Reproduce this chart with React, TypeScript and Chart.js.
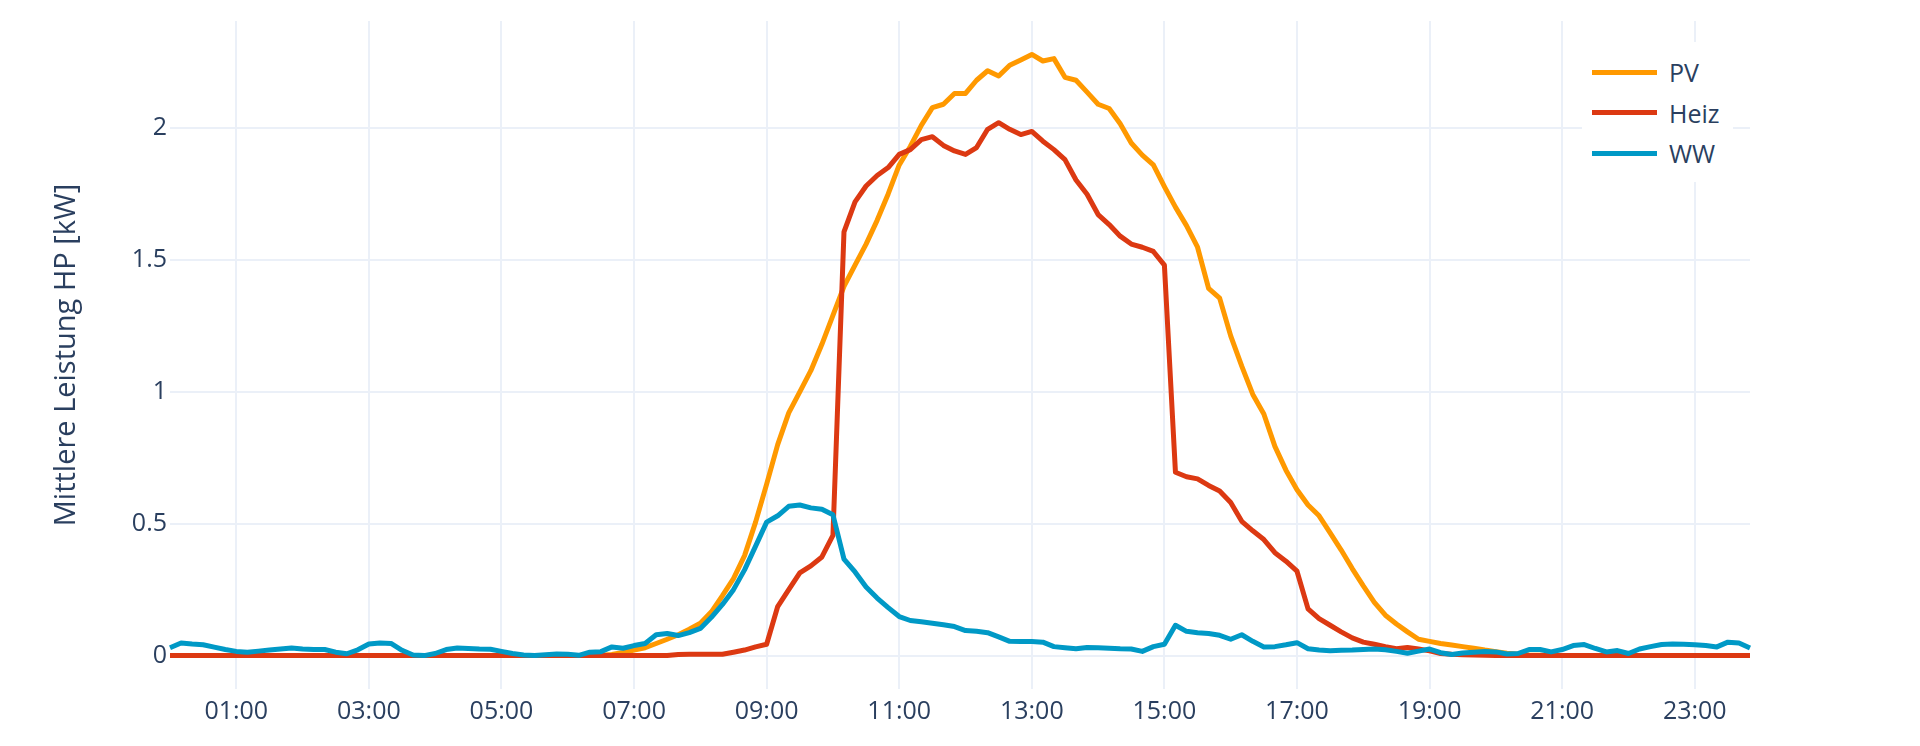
import { useEffect, useRef } from "react";
import { Chart, registerables } from "chart.js";

Chart.register(...registerables);

// 10-minute steps over the day, 00:00 ... 23:50
const times = Array.from({ length: 144 }, (_, i) => {
  const h = String(Math.floor(i / 6)).padStart(2, "0");
  const m = String((i % 6) * 10).padStart(2, "0");
  return `${h}:${m}`;
});

const tickLabels = [
  "01:00", "03:00", "05:00", "07:00", "09:00", "11:00",
  "13:00", "15:00", "17:00", "19:00", "21:00", "23:00",
];

// one row per hour (6 values)
const pv = [
  0, 0, 0, 0, 0, 0,
  0, 0, 0, 0, 0, 0,
  0, 0, 0, 0, 0, 0,
  0, 0, 0, 0, 0, 0,
  0, 0, 0, 0, 0, 0,
  0, 0, 0, 0, 0, 0,
  0, 0, 0, 0.001, 0.004, 0.012,
  0.021, 0.03, 0.046, 0.062, 0.079, 0.1,
  0.123, 0.166, 0.227, 0.292, 0.379, 0.506,
  0.65, 0.8, 0.92, 1.0, 1.08, 1.18,
  1.29, 1.4, 1.48, 1.56, 1.65, 1.75,
  1.86, 1.93, 2.01, 2.077, 2.09, 2.131,
  2.131, 2.181, 2.217, 2.197, 2.238, 2.258,
  2.279, 2.254, 2.263, 2.192, 2.181, 2.136,
  2.09, 2.074, 2.016, 1.943, 1.897, 1.86,
  1.778, 1.7, 1.63, 1.548, 1.392, 1.355,
  1.212, 1.097, 0.99, 0.916, 0.793, 0.703,
  0.629, 0.571, 0.53, 0.465, 0.4, 0.33,
  0.264, 0.202, 0.153, 0.12, 0.09, 0.062,
  0.054, 0.046, 0.04, 0.034, 0.028, 0.021,
  0.015, 0.009, 0.005, 0.002, 0.001, 0,
  0, 0, 0, 0, 0, 0,
  0, 0, 0, 0, 0, 0,
  0, 0, 0, 0, 0, 0,
];

const heiz = [
  0, 0, 0, 0, 0, 0,
  0, 0, 0, 0, 0, 0,
  0, 0, 0, 0, 0, 0,
  0, 0, 0, 0, 0, 0,
  0, 0, 0, 0, 0, 0,
  0, 0, 0, 0, 0, 0,
  0, 0, 0, 0, 0, 0,
  0, 0, 0, 0, 0.004, 0.005,
  0.005, 0.005, 0.005, 0.013, 0.021, 0.033,
  0.043, 0.186, 0.25, 0.314, 0.34, 0.374,
  0.456, 1.606, 1.72, 1.78, 1.82, 1.85,
  1.9, 1.918, 1.956, 1.967, 1.934, 1.913,
  1.9, 1.926, 1.995, 2.02, 1.995, 1.975,
  1.987, 1.95, 1.918, 1.88, 1.803, 1.749,
  1.672, 1.634, 1.59, 1.56, 1.548, 1.532,
  1.48, 0.695, 0.678, 0.67, 0.645, 0.624,
  0.58, 0.509, 0.473, 0.44, 0.39, 0.358,
  0.32, 0.177, 0.14, 0.115, 0.09, 0.067,
  0.051, 0.043, 0.034, 0.026, 0.031, 0.025,
  0.018, 0.008, 0.005, 0.003, 0.002, 0.001,
  0, 0, 0, 0, 0, 0,
  0, 0, 0, 0, 0, 0,
  0, 0, 0, 0, 0, 0,
  0, 0, 0, 0, 0, 0,
];

const ww = [
  0.03, 0.048, 0.044, 0.041, 0.032, 0.023,
  0.016, 0.013, 0.017, 0.021, 0.025, 0.029,
  0.025, 0.023, 0.023, 0.013, 0.007, 0.022,
  0.044, 0.048, 0.046, 0.02, 0.002, 0,
  0.008, 0.023, 0.029, 0.027, 0.025, 0.024,
  0.016, 0.008, 0.002, 0, 0.003, 0.006,
  0.005, 0.001, 0.013, 0.015, 0.033, 0.028,
  0.038, 0.046, 0.079, 0.084, 0.076, 0.087,
  0.103, 0.145, 0.194, 0.25, 0.325, 0.415,
  0.506, 0.53, 0.566, 0.571, 0.56, 0.555,
  0.534, 0.366, 0.317, 0.26, 0.218, 0.182,
  0.148, 0.133, 0.128, 0.123, 0.117, 0.11,
  0.095, 0.092, 0.087, 0.071, 0.054, 0.053,
  0.053, 0.051, 0.034, 0.03, 0.026, 0.031,
  0.03, 0.028, 0.026, 0.025, 0.016, 0.034,
  0.043, 0.115, 0.092, 0.087, 0.084, 0.077,
  0.062, 0.079, 0.054, 0.033, 0.034, 0.041,
  0.049, 0.026, 0.021, 0.018, 0.02, 0.021,
  0.023, 0.025, 0.022, 0.016, 0.009, 0.017,
  0.025, 0.011, 0.004, 0.01, 0.013, 0.016,
  0.014, 0.006, 0.008, 0.023, 0.023, 0.014,
  0.023, 0.038, 0.042, 0.027, 0.014, 0.019,
  0.008, 0.025, 0.034, 0.042, 0.044, 0.043,
  0.041, 0.038, 0.033, 0.051, 0.048, 0.029,
];

const seriesNames = ["PV", "Heiz", "WW"];
const seriesColors = ["#FF9900", "#DC3912", "#0099C6"];

const yMin = -0.1266;
const yMax = 2.4056;

const fontColor = "#2a3f5f";
const gridColor = "#EBF0F8";
const fontFamily = '"Open Sans", sans-serif';

export default function App() {
  const canvasRef = useRef<HTMLCanvasElement>(null);
  const chartRef = useRef<Chart | null>(null);

  useEffect(() => {
    if (!canvasRef.current) return;
    if (chartRef.current) chartRef.current.destroy();

    const values = [pv, heiz, ww];

    chartRef.current = new Chart(canvasRef.current, {
      type: "line",
      data: {
        labels: times,
        datasets: values.map((d, i) => ({
          label: seriesNames[i],
          data: d,
          borderColor: seriesColors[i],
          backgroundColor: seriesColors[i],
          borderWidth: 5,
          pointRadius: 0,
          tension: 0,
          fill: false,
          borderJoinStyle: "round" as const,
          // later traces on top, like the original
          order: values.length - i,
        })),
      },
      options: {
        animation: false,
        responsive: false,
        layout: { padding: { top: 21, right: 170, bottom: 0, left: 0 } },
        plugins: {
          legend: { display: false },
          tooltip: { enabled: false },
        },
        scales: {
          x: {
            type: "category",
            offset: false,
            afterBuildTicks: (scale: any) => {
              scale.ticks = scale.ticks.filter((t: any) =>
                tickLabels.includes(times[t.value])
              );
            },
            afterFit: (scale: any) => {
              scale.height = 57;
            },
            grid: { color: gridColor, lineWidth: 2, drawTicks: false },
            border: { display: false },
            ticks: {
              autoSkip: false,
              maxRotation: 0,
              padding: 8,
              color: fontColor,
              font: { family: fontFamily, size: 25 },
            },
          },
          y: {
            type: "linear",
            min: yMin,
            max: yMax,
            afterFit: (scale: any) => {
              scale.width = 170;
            },
            grid: { color: gridColor, lineWidth: 2, drawTicks: false },
            border: { display: false },
            ticks: {
              stepSize: 0.5,
              includeBounds: false,
              padding: 3,
              color: fontColor,
              font: { family: fontFamily, size: 25 },
              callback: (v: any) => String(Number(v)),
            },
            title: {
              display: true,
              text: "Mittlere Leistung HP [kW]",
              color: fontColor,
              font: { family: fontFamily, size: 29 },
              padding: { top: 49, bottom: 0 },
            },
          },
        },
      },
    });

    return () => {
      if (chartRef.current) {
        chartRef.current.destroy();
        chartRef.current = null;
      }
    };
  }, []);

  return (
    <div
      style={{
        position: "fixed",
        left: 0,
        top: 0,
        width: 1920,
        height: 746,
        background: "#fff",
        fontFamily,
      }}
    >
      <canvas ref={canvasRef} width={1920} height={746} />
      <div
        style={{
          position: "absolute",
          left: 1582,
          top: 42,
          width: 151,
          height: 140,
          background: "#fff",
        }}
      >
        {seriesNames.map((name, i) => (
          <div
            key={name}
            style={{
              position: "absolute",
              left: 0,
              top: 10 + i * 40.5,
              width: 151,
              height: 40,
              lineHeight: "40px",
            }}
          >
            <span
              style={{
                position: "absolute",
                left: 10,
                top: 17.5,
                width: 65,
                height: 5,
                background: seriesColors[i],
              }}
            />
            <span
              style={{
                position: "absolute",
                left: 87,
                top: 0,
                fontSize: 25,
                color: fontColor,
              }}
            >
              {name}
            </span>
          </div>
        ))}
      </div>
    </div>
  );
}
